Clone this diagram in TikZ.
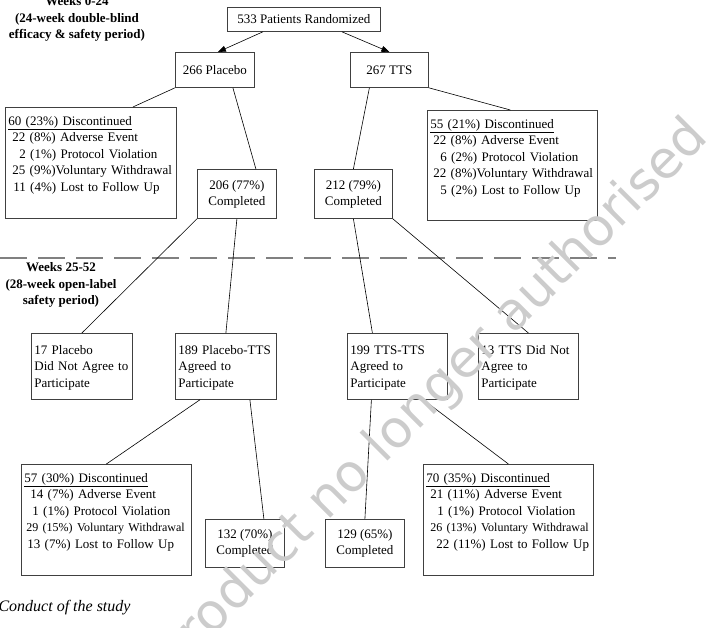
\documentclass[tikz,border=0pt]{standalone}
\usepackage{fontspec}
\setmainfont{Liberation Serif}
\newfontfamily\markfont{DejaVu Sans}
\usepackage{tikz}
\usetikzlibrary{arrows.meta, positioning, calc}

\begin{document}
\begin{tikzpicture}[
    x=1pt, y=-1pt,
    cbox/.style={draw=black!75, line width=0.8pt, anchor=north west, align=center, inner sep=3pt, font=\fontsize{13}{16}\selectfont},
    lbox/.style={draw=black!75, line width=0.8pt, anchor=north west, align=left, inner xsep=3pt, inner ysep=3pt, text width=#1, font=\fontsize{13}{16.5}\selectfont},
    lbox/.default=94pt,
    phase/.style={align=center, font=\fontsize{13}{16.5}\selectfont\bfseries},
    link/.style={draw=black, line width=0.6pt},
    msg/.style={link, -{Triangle[length=8pt, width=6pt]}},
    cutline/.style={draw=black!50, line width=1.4pt, dash pattern=on 27pt off 11pt},
    wmark/.style={rotate=45, text=black!20, font=\markfont\fontsize{52}{60}\selectfont}
]
\useasboundingbox (0,0) rectangle (710,627);

% --- Randomisation ---
\node[cbox, minimum width=153pt, minimum height=24pt] (rand) at (227,7) {533 Patients Randomized};
\node[cbox, minimum width=79pt, minimum height=35pt] (pla) at (175,52) {266 Placebo};
\node[cbox, minimum width=78pt, minimum height=35pt] (tts) at (350,52) {267 TTS};

% --- Double-blind period ---
\node[lbox=165pt, text height=15pt, text depth=90pt] (disc60) at (5,107) {%
    \underline{60 (23\%) Discontinued}\\
    \mbox{\hspace*{4pt}22 (8\%) Adverse Event}\\
    \mbox{\hspace*{11pt}2 (1\%) Protocol Violation}\\
    \mbox{\hspace*{4pt}25 (9\%)Voluntary Withdrawal}\\
    \mbox{\hspace*{5pt}11 (4\%) Lost to Follow Up}};
\node[lbox=164pt, text height=15pt, text depth=89pt] (disc55) at (427,110) {%
    \underline{55 (21\%) Discontinued}\\
    \mbox{\hspace*{3pt}22 (8\%) Adverse Event}\\
    \mbox{\hspace*{10pt}6 (2\%) Protocol Violation}\\
    \mbox{\hspace*{3pt}22 (8\%)Voluntary Withdrawal}\\
    \mbox{\hspace*{10pt}5 (2\%) Lost to Follow Up}};
\node[cbox, minimum width=79pt, minimum height=49pt] (comp206) at (197,169) {206 (77\%)\\Completed};
\node[cbox, minimum width=78pt, minimum height=49pt] (comp212) at (314,169) {212 (79\%)\\Completed};

% --- Open-label period ---
\node[lbox=95pt, text height=18pt, text depth=42pt] (pla17) at (31,333) {17 Placebo\\\mbox{Did Not Agree to}\\Participate};
\node[lbox=95pt, text height=18pt, text depth=42pt] (agree189) at (175,333) {\mbox{189 Placebo-TTS}\\Agreed to\\Participate};
\node[lbox, text height=18pt, text depth=42pt] (agree199) at (347,333) {199 TTS-TTS\\Agreed to\\Participate};
\node[lbox, text height=18pt, text depth=42pt] (tts13) at (478,333) {\mbox{13 TTS Did Not}\\Agree to\\Participate};

\node[lbox=164pt, text height=15pt, text depth=90pt] (disc57) at (21,464) {%
    \underline{57 (30\%) Discontinued}\\
    \mbox{\hspace*{6pt}14 (7\%) Adverse Event}\\
    \mbox{\hspace*{8pt}1 (1\%) Protocol Violation}\\
    \mbox{\hspace*{2pt}\fontsize{12}{16}\selectfont 29 (15\%) Voluntary Withdrawal}\\
    \mbox{\hspace*{3pt}13 (7\%) Lost to Follow Up}};
\node[cbox, minimum width=79pt, minimum height=48pt] (comp132) at (205,519) {132 (70\%)\\Completed};
\node[cbox, minimum width=79pt, minimum height=48pt] (comp129) at (325,519) {129 (65\%)\\Completed};
\node[lbox=164pt, text height=15pt, text depth=90pt] (disc70) at (423,464) {%
    \underline{70 (35\%) Discontinued}\\
    \mbox{\hspace*{4pt}21 (11\%) Adverse Event}\\
    \mbox{\hspace*{11pt}1 (1\%) Protocol Violation}\\
    \mbox{\hspace*{4pt}\fontsize{12}{16}\selectfont 26 (13\%) Voluntary Withdrawal}\\
    \mbox{\hspace*{10pt}22 (11\%) Lost to Follow Up}};

% --- Period labels ---
\node[phase] (wk024) at (77,19) {Weeks 0-24\\(24-week double-blind\\efficacy \& safety period)};
\node[phase] (wk2552) at (61,285) {Weeks 25-52\\(28-week open-label\\safety period)};
\draw[cutline] (0,258) -- (616,258);

% --- Connectors ---
\draw[msg] ([xshift=-41pt]rand.south) -- ([xshift=3pt]pla.north);
\draw[msg] ([xshift=38pt]rand.south) -- (tts.north);
\draw[link] (pla.south west) -- ([xshift=42pt]disc60.north);
\draw[link] ([xshift=18pt]pla.south) -- ([xshift=19pt]comp206.north);
\draw[link] ([xshift=-20pt]tts.south) -- (comp212.north);
\draw[link] (tts.south east) -- ([xshift=-2pt]disc55.north);
\draw[link] (comp206.south west) -- (pla17.north);
\draw[link] (comp206.south) -- (agree189.north);
\draw[link] (comp212.south) -- ([xshift=-25pt]agree199.north);
\draw[link] (comp212.south east) -- (tts13.north);
\draw[link] ([xshift=-26pt]agree189.south) -- (disc57.north);
\draw[link] ([xshift=24pt]agree189.south) -- ([xshift=19pt]comp132.north);
\draw[link] ([xshift=-26pt]agree199.south) -- (comp129.north);
\draw[link] ([xshift=26pt]agree199.south) -- (disc70.north);

% --- Page text ---
\node[anchor=west, font=\fontsize{16}{18}\selectfont\itshape] (section) at (-5,608) {Conduct of the study};
\node[wmark] (stamp) at (433,396) {Product no longer authorised};

\end{tikzpicture}
\end{document}
